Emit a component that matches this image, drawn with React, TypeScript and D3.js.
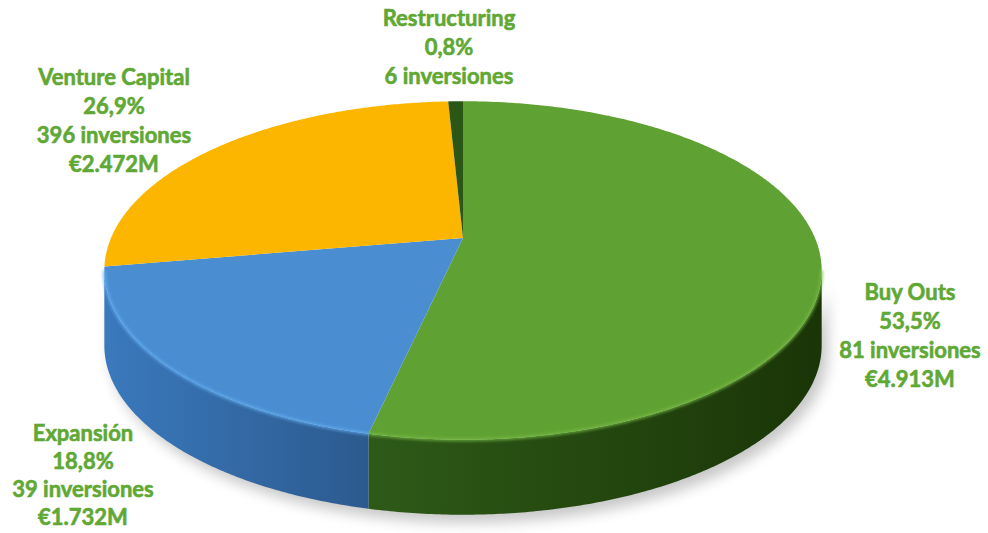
import React from "react";
import * as d3 from "d3";

const categories = ["Buy Outs", "Expansión", "Venture Capital", "Restructuring"];
const percentages = [53.5, 18.8, 26.9, 0.8];
const percentLabels = ["53,5%", "18,8%", "26,9%", "0,8%"];
const investmentLabels = ["81 inversiones", "39 inversiones", "396 inversiones", "6 inversiones"];
const amountLabels = ["€4.913M", "€1.732M", "€2.472M", ""];

const topColors = ["#60A133", "#4A8DD1", "#FDB600", "#2B5716"];
const rimColors = ["#78BC47", "#62AEF0", "#FFD24A", "#3E7A22"];
const wallLeft = ["#2E5A18", "#3A79BD", "#C98F00", "#1E3D0E"];
const wallRight = ["#1A3507", "#2C5A8E", "#A07000", "#15300A"];

// label anchor positions (center x, first-line baseline y, line spacing)
const labelPos: [number, number, number][] = [
  [910, 300, 29],
  [83, 441, 28],
  [114, 85, 29],
  [449, 26, 29],
];

const W = 988;
const H = 533;
const CX = 463;
const CY = 238;
const A = 352;
const B = 163;
const K = 0.192;
const DEPTH = 75;

function project(t: number, dy = 0): [number, number] {
  const u = Math.sin(t);
  const v = -Math.cos(t);
  const w = 1 - K * v;
  return [CX + (A * u) / w, CY + (B * v) / w + dy];
}

function arcPts(a0: number, a1: number, dy = 0): [number, number][] {
  const n = Math.max(2, Math.ceil(Math.abs(a1 - a0) / (Math.PI / 360)));
  const pts: [number, number][] = [];
  for (let i = 0; i <= n; i++) pts.push(project(a0 + ((a1 - a0) * i) / n, dy));
  return pts;
}

export default function App() {
  const pie = d3.pie<number>().sort(null).value((d) => d);
  const arcs = pie(percentages);
  const line = d3.line();
  // front silhouette angles: cos t = -K
  const frontStart = Math.acos(-K);
  const frontEnd = 2 * Math.PI - Math.acos(-K);

  const walls = arcs
    .map((a, i) => {
      const s = Math.max(a.startAngle, frontStart);
      const e = Math.min(a.endAngle, frontEnd);
      if (e <= s) return null;
      const top = arcPts(s, e);
      const bot = arcPts(e, s, DEPTH);
      const pts = [...top, ...bot];
      const xs = pts.map((p) => p[0]);
      return { i, d: line(pts) + "Z", rim: line(top), x0: d3.min(xs)!, x1: d3.max(xs)! };
    })
    .filter(Boolean) as { i: number; d: string; rim: string; x0: number; x1: number }[];

  const wholeWall = [...arcPts(frontStart, frontEnd), ...arcPts(frontEnd, frontStart, DEPTH)];

  return (
    <svg
      width={W}
      height={H}
      style={{ position: "absolute", left: 0, top: 0, background: "#fff" }}
      fontFamily="Lato, 'Open Sans', sans-serif"
    >
      <defs>
        <filter id="shadow" x="-20%" y="-20%" width="140%" height="160%">
          <feGaussianBlur stdDeviation="7" />
        </filter>
        <filter id="rimblur" x="-10%" y="-10%" width="120%" height="120%">
          <feGaussianBlur stdDeviation="1.4" />
        </filter>
        {walls.map((w) => (
          <linearGradient
            key={w.i}
            id={`wall${w.i}`}
            gradientUnits="userSpaceOnUse"
            x1={w.x0}
            x2={w.x1}
            y1={0}
            y2={0}
          >
            <stop offset="0%" stopColor={wallLeft[w.i]} />
            <stop offset="100%" stopColor={wallRight[w.i]} />
          </linearGradient>
        ))}
      </defs>

      {/* soft shadow */}
      <path
        d={line(wholeWall) + "Z"}
        transform="translate(6,8)"
        fill="#000"
        opacity={0.22}
        filter="url(#shadow)"
      />

      {/* side walls */}
      {walls.map((w) => (
        <path key={w.i} d={w.d} fill={`url(#wall${w.i})`} />
      ))}

      {/* top surface */}
      {arcs.map((a, i) => {
        const pts: [number, number][] = [[CX, CY], ...arcPts(a.startAngle, a.endAngle)];
        return <path key={i} d={line(pts) + "Z"} fill={topColors[i]} />;
      })}

      {/* rim highlight */}
      {walls.map((w) => (
        <path
          key={`rim${w.i}`}
          d={w.rim!}
          fill="none"
          stroke={rimColors[w.i]}
          strokeWidth={3}
          opacity={0.8}
          filter="url(#rimblur)"
        />
      ))}

      {/* labels */}
      {categories.map((c, i) => {
        const [x, y, lh] = labelPos[i];
        const lines = [c, percentLabels[i], investmentLabels[i], amountLabels[i]].filter((s) => s);
        return (
          <text
            key={c}
            x={x}
            y={y}
            textAnchor="middle"
            fill="#60A834"
            stroke="#60A834"
            strokeWidth={0.6}
            fontWeight={700}
            fontSize={22}
          >
            {lines.map((s, j) => (
              <tspan key={j} x={x} y={y + j * lh}>
                {s}
              </tspan>
            ))}
          </text>
        );
      })}
    </svg>
  );
}
